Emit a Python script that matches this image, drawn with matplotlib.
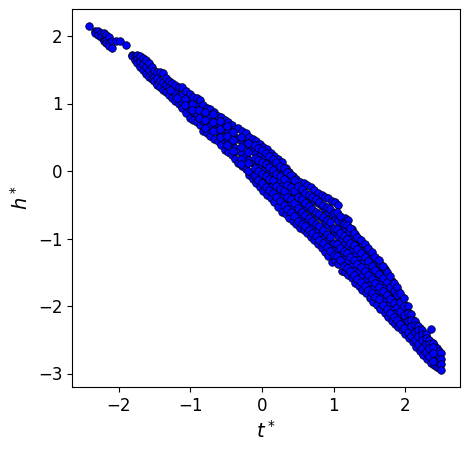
import matplotlib
matplotlib.use('Agg')
import matplotlib.pyplot as plt

# each t* value with the h* values read at that t*
t_columns = [
    -2.41, -2.33, -2.29, -2.25, -2.21, -2.17, -2.13, -2.09, -2.04, -1.98, -1.90,
    -1.81, -1.77, -1.74, -1.70, -1.66, -1.62, -1.58, -1.54, -1.50, -1.46, -1.42, -1.38, -1.34,
    -1.30, -1.25, -1.21, -1.16, -1.11, -1.06, -1.01, -0.96, -0.91, -0.86, -0.82, -0.77,
    -0.72, -0.67, -0.62, -0.57, -0.52, -0.47, -0.42, -0.38, -0.33, -0.28, -0.23, -0.18,
    -0.13, -0.08, -0.03, 0.02, 0.07, 0.12, 0.17, 0.22, 0.28, 0.33, 0.38, 0.43,
    0.48, 0.53, 0.58, 0.63, 0.68, 0.73, 0.78, 0.83, 0.88, 0.92, 0.97, 1.02, 1.06,
    1.11, 1.16, 1.20, 1.25, 1.30, 1.35, 1.40, 1.45, 1.50, 1.55, 1.60, 1.65, 1.71,
    1.76, 1.81, 1.86, 1.90, 1.95, 2.00, 2.05, 2.10, 2.15, 2.20, 2.25, 2.30, 2.36,
    2.40, 2.44, 2.47, 2.50,
]
h_columns = [
    [2.15], [2.07, 2.04], [2.07, 2.02], [2.05, 1.98], [2.04, 1.96, 1.92], [2.02, 1.94, 1.9],
    [1.98, 1.9, 1.85], [1.92, 1.82], [1.92], [1.93], [1.87],
    [1.72, 1.7], [1.7, 1.64], [1.72, 1.66, 1.6], [1.7, 1.62, 1.54], [1.68, 1.58, 1.5],
    [1.64, 1.54, 1.44], [1.6, 1.5, 1.4], [1.54, 1.44, 1.36], [1.48, 1.4, 1.33],
    [1.46, 1.38, 1.28], [1.46, 1.34, 1.24], [1.45, 1.32, 1.2], [1.38, 1.28, 1.17],
    [1.34, 1.24, 1.13], [1.3, 1.2, 1.08], [1.28, 1.16, 1.04], [1.24, 1.12, 1.0],
    [1.24, 1.12, 1.02, 0.93], [1.18, 1.06, 0.96, 0.86], [1.14, 1.02, 0.92, 0.79],
    [1.1, 0.98, 0.88, 0.76], [1.08, 0.96, 0.84, 0.72], [1.05, 0.92, 0.8, 0.68],
    [0.98, 0.86, 0.74, 0.6], [0.94, 0.82, 0.7, 0.56],
    [0.92, 0.8, 0.66, 0.52], [0.88, 0.76, 0.62, 0.48], [0.82, 0.7, 0.58, 0.44],
    [0.8, 0.66, 0.52, 0.38], [0.76, 0.62, 0.46, 0.31], [0.72, 0.58, 0.44, 0.28],
    [0.68, 0.54, 0.4, 0.24], [0.62, 0.5, 0.34, 0.18], [0.64, 0.48, 0.3, 0.12],
    [0.59, 0.44, 0.26, 0.08], [0.56, 0.4, 0.22, 0.03], [0.5, 0.34, 0.16, -0.06],
    [0.48, 0.3, 0.12, -0.06, -0.12], [0.44, 0.26, 0.08, -0.1, -0.18],
    [0.4, 0.24, 0.06, -0.12, -0.24], [0.36, 0.18, 0.0, -0.16, -0.3],
    [0.32, 0.14, -0.04, -0.2, -0.35], [0.26, 0.1, -0.08, -0.24, -0.4],
    [0.22, 0.04, -0.12, -0.3, -0.46], [0.18, 0.0, -0.16, -0.34, -0.53],
    [0.13, -0.04, -0.22, -0.4, -0.6], [0.04, -0.12, -0.28, -0.46, -0.64],
    [-0.02, -0.16, -0.32, -0.5, -0.7], [-0.08, -0.22, -0.38, -0.56, -0.74],
    [-0.12, -0.26, -0.42, -0.6, -0.78], [-0.16, -0.3, -0.46, -0.64, -0.84],
    [-0.18, -0.34, -0.5, -0.7, -0.88], [-0.2, -0.36, -0.54, -0.74, -0.92],
    [-0.24, -0.4, -0.58, -0.78, -0.98], [-0.28, -0.44, -0.62, -0.82, -1.02],
    [-0.32, -0.48, -0.66, -0.88, -1.08], [-0.36, -0.52, -0.7, -0.92, -1.14],
    [-0.38, -0.56, -0.76, -0.98, -1.2], [-0.4, -0.6, -0.8, -1.02, -1.26],
    [-0.44, -0.64, -0.86, -1.08, -1.35], [-0.46, -0.7, -0.92, -1.14, -1.32],
    [-0.5, -0.74, -0.96, -1.18, -1.38],
    [-0.72, -0.82, -1.02, -1.24, -1.48], [-0.7, -0.88, -1.08, -1.3, -1.5],
    [-0.73, -0.92, -1.12, -1.34, -1.54], [-0.86, -0.98, -1.18, -1.4, -1.59],
    [-0.94, -1.04, -1.24, -1.46, -1.66], [-1.0, -1.12, -1.3, -1.5, -1.7],
    [-1.06, -1.18, -1.36, -1.56, -1.76], [-1.14, -1.24, -1.42, -1.62, -1.81],
    [-1.2, -1.32, -1.48, -1.68, -1.88], [-1.26, -1.38, -1.54, -1.74, -1.94],
    [-1.34, -1.46, -1.6, -1.8, -1.98], [-1.38, -1.52, -1.66, -1.86, -2.04],
    [-1.45, -1.58, -1.72, -1.92, -2.11],
    [-1.56, -1.66, -1.8, -1.98, -2.16], [-1.63, -1.74, -1.86, -2.04, -2.22],
    [-1.7, -1.8, -1.94, -2.1, -2.27], [-1.78, -1.88, -2.0, -2.16, -2.31],
    [-1.87, -1.96, -2.06, -2.2, -2.35], [-1.98, -2.06, -2.16, -2.28, -2.42],
    [-2.1, -2.16, -2.24, -2.34, -2.48], [-2.2, -2.26, -2.32, -2.42, -2.54],
    [-2.27, -2.32, -2.4, -2.5, -2.61], [-2.33, -2.38, -2.45, -2.55, -2.66],
    [-2.4, -2.45, -2.5, -2.6, -2.72], [-2.47, -2.52, -2.58, -2.68, -2.78],
    [-2.34, -2.54, -2.62, -2.72, -2.84],
    [-2.58, -2.66, -2.76, -2.88], [-2.62, -2.7, -2.8, -2.9],
    [-2.66, -2.74, -2.84, -2.92], [-2.7, -2.78, -2.86, -2.95],
]

# second pass over the band, between the rows above
t_fill = [
    -1.28, -1.18, -1.08, -0.98, -0.88, -0.79, -0.69, -0.59, -0.49, -0.40, -0.30, -0.20,
    -0.10, -0.05, 0.00, 0.05, 0.10, 0.15, 0.20, 0.25, 0.30, 0.35, 0.40, 0.45,
    0.50, 0.55, 0.60, 0.65, 0.70, 0.75, 0.80, 0.85, 0.90, 0.95, 1.00, 1.04,
    1.09, 1.14, 1.18, 1.23, 1.28, 1.33, 1.38, 1.43, 1.48, 1.53, 1.58, 1.63, 1.68,
    1.74, 1.79, 1.84, 1.88, 1.93, 1.98, 2.03, 2.08, 2.13, 2.18, 2.23, 2.28, 2.33, 2.38,
]
h_fill = [
    [1.2], [1.08], [1.07, 0.98], [1.0, 0.9], [0.9, 0.78], [0.88, 0.76, 0.64],
    [0.84, 0.72, 0.6], [0.74, 0.62, 0.5], [0.66, 0.52, 0.38], [0.58, 0.46, 0.3],
    [0.5, 0.36, 0.18, 0.1], [0.42, 0.28, 0.12, 0.0],
    [0.38, 0.2, 0.04, -0.06], [0.34, 0.16, 0.0, -0.14], [0.31, 0.14, -0.04, -0.18],
    [0.26, 0.1, -0.08, -0.23], [0.22, 0.06, -0.12, -0.28], [0.18, 0.02, -0.14, -0.32],
    [0.14, -0.04, -0.22, -0.38], [0.08, -0.08, -0.26, -0.44], [0.04, -0.12, -0.3, -0.5],
    [-0.02, -0.2, -0.38, -0.56], [-0.06, -0.24, -0.42, -0.6], [-0.14, -0.3, -0.48, -0.66],
    [-0.22, -0.38, -0.55, -0.74], [-0.26, -0.42, -0.6, -0.78], [-0.32, -0.48, -0.65, -0.82],
    [-0.36, -0.52, -0.7, -0.88], [-0.38, -0.56, -0.74, -0.92], [-0.42, -0.6, -0.78, -0.96],
    [-0.46, -0.64, -0.82, -1.02], [-0.5, -0.68, -0.88, -1.06], [-0.54, -0.72, -0.94, -1.12],
    [-0.56, -0.76, -0.98, -1.18], [-0.62, -0.84, -1.06, -1.24], [-0.6, -0.86, -1.08, -1.26],
    [-0.66, -0.92, -1.14, -1.32], [-0.78, -0.96, -1.18, -1.4], [-0.8, -1.0, -1.22, -1.44],
    [-0.84, -1.06, -1.28, -1.48], [-0.92, -1.1, -1.32, -1.54], [-0.98, -1.16, -1.38, -1.6],
    [-1.02, -1.22, -1.42, -1.64], [-1.08, -1.28, -1.48, -1.7], [-1.14, -1.34, -1.54, -1.76],
    [-1.2, -1.4, -1.6, -1.8], [-1.28, -1.46, -1.66, -1.86], [-1.32, -1.52, -1.72, -1.9],
    [-1.4, -1.58, -1.78, -1.98],
    [-1.5, -1.64, -1.84, -2.04], [-1.56, -1.72, -1.9, -2.1], [-1.66, -1.78, -1.96, -2.16],
    [-1.72, -1.84, -2.02, -2.2], [-1.8, -1.94, -2.08, -2.26], [-1.88, -2.0, -2.14, -2.32],
    [-2.0, -2.1, -2.22, -2.38], [-2.12, -2.2, -2.3, -2.44], [-2.22, -2.28, -2.38, -2.5],
    [-2.3, -2.35, -2.44, -2.56], [-2.36, -2.42, -2.5, -2.62], [-2.42, -2.48, -2.56, -2.68],
    [-2.5, -2.56, -2.62, -2.74], [-2.55, -2.6, -2.7, -2.82],
]

t_star = [t for t, col in zip(t_columns + t_fill, h_columns + h_fill) for _ in col]
h_star = [h for col in h_columns + h_fill for h in col]

fig = plt.figure(figsize=(4.69, 4.49), dpi=100)
ax = fig.add_axes([72 / 469, 1 - 387 / 449, 388 / 469, 378 / 449])

ax.scatter(t_star, h_star, s=30, c='blue', edgecolors='black', linewidths=0.5)

ax.set_xlim(-2.65, 2.76)
ax.set_ylim(-3.2, 2.4)
ax.set_xticks([-2, -1, 0, 1, 2])
ax.set_yticks([-3, -2, -1, 0, 1, 2])
ax.tick_params(labelsize=12)
ax.set_xlabel(r'$t^*$', fontsize=14)
ax.set_ylabel(r'$h^*$', fontsize=14)

fig.savefig('out.png', dpi=100)
